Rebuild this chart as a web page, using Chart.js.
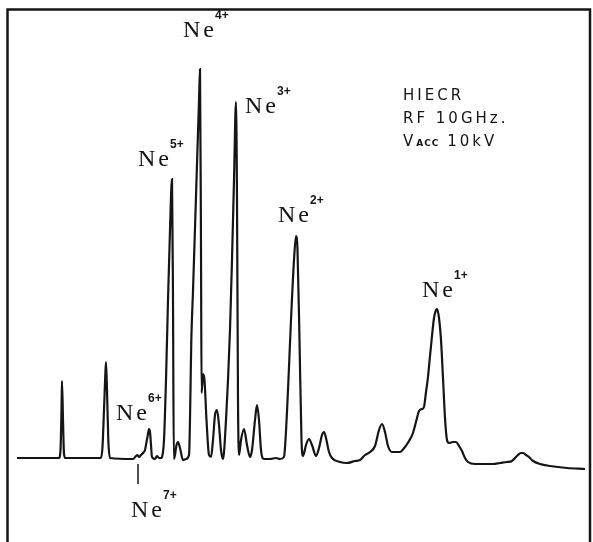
<!DOCTYPE html>
<html>
<head>
<meta charset="utf-8">
<script src="https://cdn.jsdelivr.net/npm/chart.js@4.4.1/dist/chart.umd.min.js"></script>
<style>
  html, body { margin: 0; padding: 0; background: #fff; }
  #wrap { position: relative; width: 593px; height: 542px; }
</style>
</head>
<body>
<div id="wrap"><canvas id="spectrum" width="593" height="542"></canvas></div>
<script>
// scan position (arbitrary units, left to right) and detector signal above the zero line
const scanPos = [
  17, 58, 59, 60.5, 61.5, 62, 63, 64, 65.5, 100,
  101, 102.5, 104, 105.3, 106, 107, 108.3, 110, 133, 136,
  137.5, 139, 141, 143, 145, 146.5, 148, 149, 150, 151,
  152, 155, 157, 159, 161, 162.5, 164, 166, 168, 170,
  172, 173, 173.8, 175, 176.5, 178, 180, 183, 186, 189,
  191.5, 193, 195, 197, 199, 200, 201, 201.6, 203, 204.5,
  206.5, 209, 211, 213, 215, 217, 219, 221, 223, 226,
  228, 230, 232, 234, 236, 237, 238, 239, 241, 244,
  247, 250, 252, 255, 257, 259, 261, 264, 270, 276,
  280, 284, 285.5, 288, 291, 294, 296, 297.5, 299.5, 301.5,
  303, 306, 309, 312, 316, 319, 322, 324, 326, 329,
  332, 340, 347, 355, 360, 365, 370, 375, 379, 382,
  385, 388, 392, 400, 405, 409, 413, 417, 419, 422,
  424, 426, 428, 430, 432, 434, 436, 437, 439, 441,
  443, 445, 447, 449, 453, 456, 459, 462, 465, 468,
  475, 480, 493, 500, 507, 512, 515, 518, 521, 523,
  526, 529, 533, 540, 550, 567, 585
];
const signal = [
  2, 2, 2, 10, 50, 79, 40, 6, 2, 2,
  2, 13, 50, 85, 98, 70, 20, 2, 1, 4,
  5, 3, 5, 7, 10, 18, 26, 31, 28, 15,
  3, 1, 4, 2, 2, 5, 20, 80, 160, 230,
  281, 160, 1, 5, 15, 18, 12, 0, 1, 5,
  127, 169, 232, 296, 359, 391, 210, 67, 86, 80,
  40, 5, 3, 20, 45, 50, 35, 10, 1, 40,
  80, 130, 200, 280, 358, 260, 60, 5, 20, 31,
  15, 3, 10, 40, 55, 40, 10, 1, 1, 2,
  1, 3, 20, 70, 140, 200, 224, 210, 120, 20,
  4, 15, 21, 15, 4, 12, 25, 28, 22, 8,
  2, -2, -3, -1, 0, 5, 8, 14, 30, 36,
  28, 14, 8, 8, 13, 19, 27, 42, 49, 51,
  53, 68, 83, 104, 124, 142, 150, 151, 142, 120,
  82, 42, 20, 17, 18, 18, 14, 9, 2, -2,
  -4, -4, -4, -3, -2, -1, 2, 5, 7, 7,
  5, 3, -1, -4, -6, -8, -9
];
// peak labels: ion name, charge state, and where the label sits (scan position, signal)
const ionNames = ['Ne', 'Ne', 'Ne', 'Ne', 'Ne', 'Ne', 'Ne'];
const ionCharges = ['4+', '3+', '5+', '2+', '1+', '6+', '7+'];
const labelPos = [183, 245, 138, 278, 422, 116, 131];
const labelSig = [423, 347, 294, 238, 163, 40, -57];
const infoLines = ['HIECR', 'RF 10GHz.', 'V|ACC| 10kV'];

const pts = scanPos.map((x, i) => ({ x: x, y: signal[i] }));

const ink = '#151515';

const annotations = {
  id: 'annotations',
  afterDraw(chart) {
    const c = chart.ctx;
    const xs = chart.scales.x, ys = chart.scales.y;
    c.save();
    c.fillStyle = ink;
    c.strokeStyle = ink;

    // frame (open at the bottom)
    c.lineWidth = 2.5;
    c.beginPath();
    c.moveTo(7.5, 542);
    c.lineTo(7.5, 9.5);
    c.lineTo(590, 9.5);
    c.lineTo(590, 542);
    c.stroke();

    // Ne7+ marker tick
    c.lineWidth = 1.5;
    c.beginPath();
    c.moveTo(xs.getPixelForValue(138), ys.getPixelForValue(-4));
    c.lineTo(xs.getPixelForValue(138), ys.getPixelForValue(-24));
    c.stroke();

    // ion labels
    c.textBaseline = 'alphabetic';
    ionNames.forEach((name, i) => {
      let px = xs.getPixelForValue(labelPos[i]);
      const py = ys.getPixelForValue(labelSig[i]);
      c.font = '24px "Liberation Serif"';
      for (const ch of name) {
        c.fillText(ch, px, py);
        px += c.measureText(ch).width + 3;
      }
      c.font = 'bold 12px "Liberation Sans"';
      c.fillText(ionCharges[i], px - 2, py - 18);
    });

    // run info
    let iy = 100;
    infoLines.forEach(line => {
      let px = 403;
      const parts = line.split('|');
      parts.forEach((part, k) => {
        c.font = k === 1 ? 'bold 9px "DejaVu Sans"' : '15px "DejaVu Sans"';
        const gap = k === 1 ? 1 : 3;
        for (const ch of part) {
          c.fillText(ch, px, iy);
          px += c.measureText(ch).width + gap;
        }
      });
      iy += 23;
    });
    c.restore();
  }
};

new Chart(document.getElementById('spectrum'), {
  type: 'line',
  data: {
    datasets: [{
      data: pts,
      borderColor: ink,
      borderWidth: 2.2,
      pointRadius: 0,
      fill: false,
      cubicInterpolationMode: 'monotone'
    }]
  },
  options: {
    responsive: false,
    animation: false,
    layout: { padding: 0 },
    plugins: { legend: { display: false }, tooltip: { enabled: false } },
    scales: {
      x: { type: 'linear', min: 0, max: 593, display: false },
      y: { min: -82, max: 460, display: false }
    }
  },
  plugins: [annotations]
});
</script>
</body>
</html>
